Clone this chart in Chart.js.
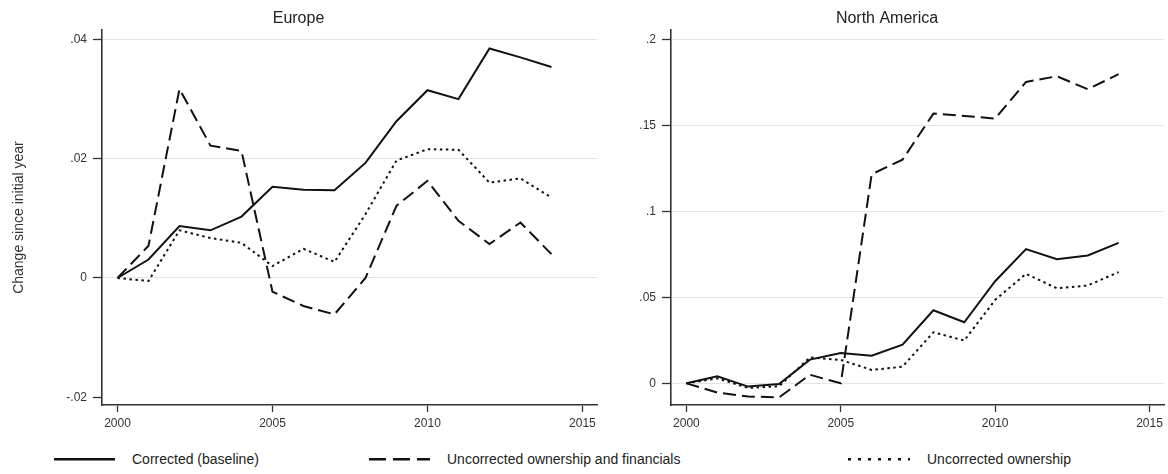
<!DOCTYPE html>
<html>
<head>
<meta charset="utf-8">
<script src="https://cdn.jsdelivr.net/npm/chart.js@4"></script>
<style>
  body { margin: 0; background: #fff; width: 1168px; height: 474px; position: relative; overflow: hidden; font-family: "Liberation Sans", Arial, sans-serif; }
  canvas { position: absolute; top: 0; }
  #legend { position: absolute; left: 0; top: 440px; width: 1168px; height: 34px; }
  #legend span { position: absolute; top: 10px; font-size: 14px; line-height: 18px; color: #222; }
</style>
</head>
<body>
<canvas id="europe" width="610" height="440" style="left:0"></canvas>
<canvas id="northAmerica" width="558" height="440" style="left:610px"></canvas>
<div id="legend">
  <svg width="1168" height="34" style="position:absolute;left:0;top:0">
    <line x1="54" y1="19.3" x2="115" y2="19.3" stroke="#111" stroke-width="2.5"/>
    <line x1="369" y1="19.3" x2="430" y2="19.3" stroke="#111" stroke-width="2.5" stroke-dasharray="17 7"/>
    <line x1="848" y1="19.3" x2="910" y2="19.3" stroke="#111" stroke-width="2.5" stroke-dasharray="3 7"/>
  </svg>
  <span id="lg0" style="left:132px"></span>
  <span id="lg1" style="left:447px"></span>
  <span id="lg2" style="left:927px"></span>
</div>
<script>
// years and series
const years = [2000, 2001, 2002, 2003, 2004, 2005, 2006, 2007, 2008, 2009, 2010, 2011, 2012, 2013, 2014];
const seriesNames = ["Corrected (baseline)", "Uncorrected ownership and financials", "Uncorrected ownership"];

const europeCorrected  = [0, 0.0031, 0.0087, 0.0080, 0.0103, 0.0153, 0.0148, 0.0147, 0.0193, 0.0263, 0.0315, 0.0300, 0.0385, 0.0370, 0.0354];
const europeFinancials = [0, 0.0054, 0.0317, 0.0222, 0.0213, -0.0023, -0.0047, -0.0061, 0.0000, 0.0121, 0.0163, 0.0096, 0.0057, 0.0093, 0.0040];
const europeOwnership  = [0, -0.0005, 0.0080, 0.0067, 0.0059, 0.0020, 0.0049, 0.0027, 0.0107, 0.0197, 0.0216, 0.0215, 0.0160, 0.0167, 0.0135];

const naCorrected  = [0, 0.0041, -0.0019, -0.0004, 0.0138, 0.0177, 0.0161, 0.0225, 0.0425, 0.0355, 0.0594, 0.0781, 0.0722, 0.0744, 0.0817];
const naFinancials = [0, -0.0054, -0.0076, -0.0082, 0.0050, 0.0000, 0.1216, 0.1301, 0.1569, 0.1555, 0.1540, 0.1753, 0.1786, 0.1711, 0.1798];
const naOwnership  = [0, 0.0029, -0.0027, -0.0017, 0.0151, 0.0136, 0.0078, 0.0097, 0.0297, 0.0249, 0.0485, 0.0637, 0.0553, 0.0569, 0.0647];

const xTicks = [2000, 2005, 2010, 2015];
const europeTicks = [-0.02, 0, 0.02, 0.04];
const europeTickLabels = ["-.02", "0", ".02", ".04"];
const naTicks = [0, 0.05, 0.1, 0.15, 0.2];
const naTickLabels = ["0", ".05", ".1", ".15", ".2"];

const FONT = "'Liberation Sans', Arial, sans-serif";
const dashes = [[], [13, 6], [2.5, 3.5]];

seriesNames.forEach((n, i) => { document.getElementById("lg" + i).textContent = n; });

function makeDatasets(lists) {
  return lists.map((vals, i) => ({
    label: seriesNames[i],
    data: years.map((y, j) => ({ x: y, y: vals[j] })),
    borderColor: "#111",
    borderWidth: 2,
    borderDash: dashes[i],
    pointRadius: 0,
    tension: 0,
    fill: false
  }));
}

function makeChart(id, title, lists, yTicks, yLabels, yMin, yMax, yWidth, padRight, yTitle) {
  new Chart(document.getElementById(id), {
    type: "line",
    data: { datasets: makeDatasets(lists) },
    options: {
      responsive: false,
      animation: false,
      layout: { padding: { left: 0, right: padRight, top: 0, bottom: 0 } },
      plugins: {
        legend: { display: false },
        tooltip: { enabled: false },
        title: {
          display: true,
          text: title,
          color: "#222",
          font: { family: FONT, size: 16, weight: "normal" },
          padding: { top: 9, bottom: 2 }
        }
      },
      scales: {
        x: {
          type: "linear",
          min: 1999.5,
          max: 2015.47,
          afterBuildTicks: s => { s.ticks = xTicks.map(v => ({ value: v })); },
          afterFit: s => { s.height = 35; },
          grid: { drawOnChartArea: false, drawTicks: true, tickLength: 7, tickColor: "#333", tickWidth: 1.3 },
          border: { display: true, color: "#333", width: 1.6 },
          ticks: { color: "#333", padding: 4, maxRotation: 0, font: { family: FONT, size: 12 }, callback: v => String(v) }
        },
        y: {
          type: "linear",
          min: yMin,
          max: yMax,
          afterBuildTicks: s => { s.ticks = yTicks.map(v => ({ value: v })); },
          afterFit: s => { s.width = yWidth; },
          grid: {
            color: ctx => (ctx.tick && ctx.tick.value < 0) ? "rgba(0,0,0,0)" : "#e4e4e4",
            lineWidth: 1,
            drawTicks: true,
            tickLength: 9,
            tickColor: "#333",
            tickWidth: 1.3
          },
          border: { display: true, color: "#333", width: 1.6 },
          ticks: {
            color: "#333",
            padding: 6,
            font: { family: FONT, size: 12 },
            callback: (v, i) => yLabels[i]
          },
          title: yTitle ? {
            display: true,
            text: yTitle,
            color: "#333",
            font: { family: FONT, size: 14 },
            padding: { top: 11, bottom: 0 }
          } : { display: false }
        }
      }
    }
  });
}

makeChart("europe", "Europe", [europeCorrected, europeFinancials, europeOwnership],
  europeTicks, europeTickLabels, -0.0213, 0.04156, 102, 13, "Change since initial year");
makeChart("northAmerica", "North America", [naCorrected, naFinancials, naOwnership],
  naTicks, naTickLabels, -0.0126, 0.2054, 61, 4, null);
</script>
</body>
</html>
